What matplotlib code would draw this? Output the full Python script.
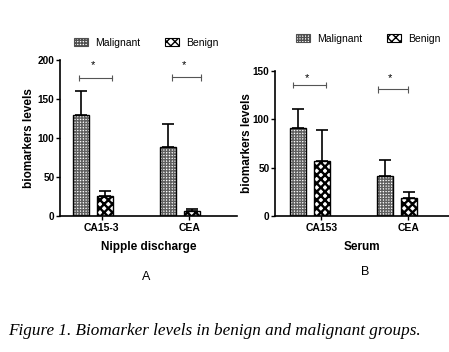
import matplotlib
matplotlib.use('Agg')
import matplotlib.pyplot as plt
import numpy as np

plt.rcParams['font.family'] = ['Liberation Sans Narrow', 'Liberation Sans', 'DejaVu Sans']

# data
markers_a = ['CA15-3', 'CEA']
malignant_a = [130, 89]
malignant_a_err = [30, 29]
benign_a = [26, 7]
benign_a_err = [6, 2]

markers_b = ['CA153', 'CEA']
malignant_b = [91, 41]
malignant_b_err = [20, 17]
benign_b = [57, 19]
benign_b_err = [32, 6]

W, H = 449, 352
fig = plt.figure(figsize=(W / 100, H / 100), dpi=100)


def box(l, t, r, b):
    # pixel box -> figure fraction
    return [l / W, 1 - b / H, (r - l) / W, (b - t) / H]


def panel(ax, cats, mal, mal_err, ben, ben_err, ymax, yticks, xlim, off, width,
          brackets, xlabel, tick_shift, legend_anchor, ylab_x):
    x = np.arange(len(cats))
    ekw = dict(elinewidth=1.2, capthick=1.2, ecolor='black')
    # hatch layers first (gray fine mesh / black checker), then black outlines
    plt.rcParams['hatch.linewidth'] = 1.0
    ax.bar(x - off, mal, width, color='white', edgecolor='#606060', hatch='++++++',
           linewidth=0)
    ax.bar(x, [0, 0], 0, color='white', edgecolor='#505050', hatch='++++++',
           linewidth=0.8, label='Malignant')
    plt.rcParams['hatch.linewidth'] = 1.7
    ax.bar(x + off, ben, width, color='white', edgecolor='black', hatch='xxxx',
           linewidth=0)
    ax.bar(x, [0, 0], 0, color='white', edgecolor='black', hatch='xxxx',
           linewidth=0.8, label='Benign')
    ax.bar(x - off, mal, width, yerr=[np.zeros(len(mal)), mal_err], fill=False,
           edgecolor='black', linewidth=1.0, capsize=4.5, error_kw=ekw)
    ax.bar(x + off, ben, width, yerr=[np.zeros(len(ben)), ben_err], fill=False,
           edgecolor='black', linewidth=1.0, capsize=4.5, error_kw=ekw)
    plt.rcParams['hatch.linewidth'] = 1.0
    for i, (x0, x1, y, sy) in enumerate(brackets):
        ax.errorbar([i + x0, i + x1], [y, y], yerr=ymax * 0.022, color='#555555',
                    lw=0.8, capsize=0, elinewidth=0.8)
        ax.text(i + (x0 + x1) / 2 - 0.03, sy, '*', ha='center', va='center',
                fontsize=8)
    ax.set_xlim(*xlim)
    ax.set_ylim(0, ymax)
    ax.set_yticks(yticks)
    ax.set_xticks(x + tick_shift)
    ax.set_xticklabels(cats, fontsize=7.5, fontweight='bold')
    ax.tick_params(axis='y', labelsize=7.2, length=3, width=1, pad=1)
    ax.tick_params(axis='x', length=3, width=1, pad=2)
    for lbl in ax.get_yticklabels():
        lbl.set_fontweight('bold')
    ax.spines['top'].set_visible(False)
    ax.spines['right'].set_visible(False)
    ax.spines['left'].set_linewidth(1.2)
    ax.spines['bottom'].set_linewidth(1.2)
    ax.set_ylabel('biomarkers levels', fontsize=8.5, fontweight='bold')
    ax.yaxis.set_label_coords(ylab_x, 0.5)
    ax.set_xlabel(xlabel, fontsize=8.5, fontweight='bold', labelpad=6)
    ax.legend(ncol=2, frameon=False, fontsize=7.5, loc='center left',
              bbox_to_anchor=legend_anchor, handlelength=1.35, handleheight=0.8,
              columnspacing=2.4, handletextpad=0.65, borderaxespad=0,
              borderpad=0)


ax_a = fig.add_axes(box(60, 60, 237, 216))
panel(ax_a, markers_a, malignant_a, malignant_a_err, benign_a, benign_a_err,
      200, [0, 50, 100, 150, 200], (-0.377, 1.646), 0.137, 0.183,
      [(-0.16, 0.217, 177, 194), (-0.097, 0.234, 178, 194)],
      'Nipple discharge', 0.1, (0.08, 1.11), -0.141)

ax_b = fig.add_axes(box(275, 71, 449, 216))
panel(ax_b, markers_b, malignant_b, malignant_b_err, benign_b, benign_b_err,
      150, [0, 50, 100, 150], (-0.402, 1.598), 0.133, 0.184,
      [(-0.195, 0.184, 135.5, 143), (-0.218, 0.126, 131, 143)],
      'Serum', 0.13, (0.12, 1.22), -0.126)

fig.text(146 / W, 1 - 277 / H, 'A', ha='center', va='center', fontsize=9)
fig.text(365 / W, 1 - 272 / H, 'B', ha='center', va='center', fontsize=9)

fig.text(8 / W, 1 - 331 / H, 'Figure 1. Biomarker levels in benign and malignant groups.',
         family=['Liberation Serif', 'DejaVu Serif'], style='italic', fontsize=12.3,
         ha='left', va='center')

fig.savefig('out.png', dpi=100)
